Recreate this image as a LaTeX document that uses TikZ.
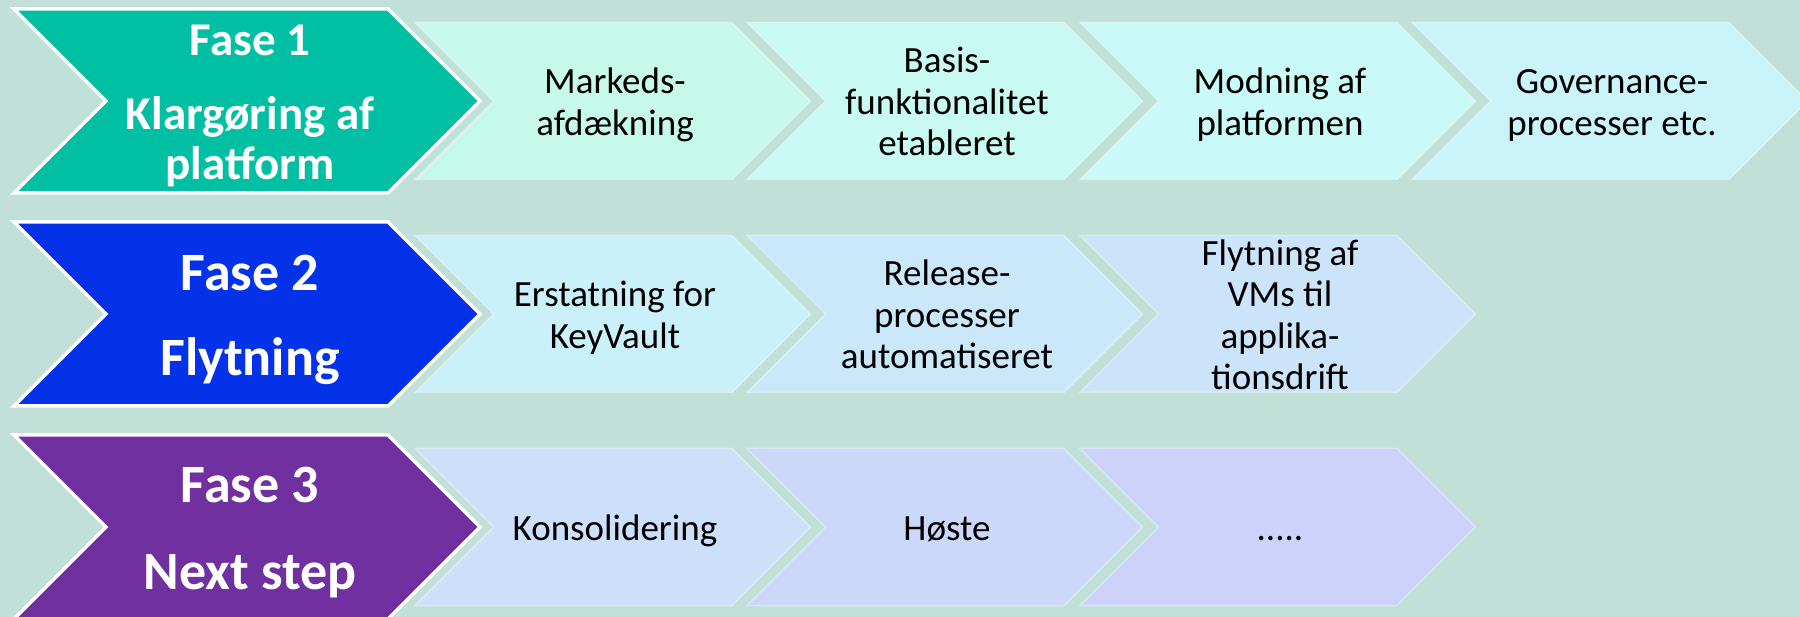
\documentclass[tikz,border=0pt]{standalone}
\usepackage{fontspec}
\setmainfont{Carlito}

\definecolor{bgcol}{RGB}{192,224,216}
\definecolor{fasea}{RGB}{0,191,163}
\definecolor{faseb}{RGB}{4,50,232}
\definecolor{fasec}{RGB}{112,48,160}
\definecolor{taska}{RGB}{198,249,234}
\definecolor{taskb}{RGB}{200,250,242}
\definecolor{taskc}{RGB}{202,250,247}
\definecolor{taskd}{RGB}{202,244,250}
\definecolor{taske}{RGB}{202,240,250}
\definecolor{taskf}{RGB}{202,232,250}
\definecolor{taskg}{RGB}{203,228,250}
\definecolor{taskh}{RGB}{204,224,250}
\definecolor{taski}{RGB}{204,216,250}
\definecolor{taskj}{RGB}{204,210,250}

% struts so that lines are centred like the slide text
\newcommand{\tstrut}{\rule{0pt}{0.97em}}
\newcommand{\bstrut}{\rule[-0.25em]{0pt}{0.25em}}
% #1 style, #2 left x, #3 centre y, #4 length to top corner, #5 half height
\newcommand{\chevron}[5]{%
  \path[#1] (#2,#3-#5) -- ++(#4,0) -- ++(#5,#5) -- ++(-#5,#5)
    -- ++(-#4,0) -- ++(#5,-#5) -- cycle;}

\begin{document}
\begin{tikzpicture}[x=1pt, y=-1pt,
  phase/.style = {draw=white, line width=3.5pt, line join=miter},
  task/.style = {draw=white, draw opacity=0.35, line width=1.5pt},
  phasetext/.style = {text=white, align=center, font=\bfseries\fontsize{54}{54}\selectfont},
  tasktext/.style = {align=center, font=\fontsize{37}{41.5}\selectfont}
  ]
  \useasboundingbox (0,0) rectangle (1800,617);
  \clip (0,0) rectangle (1800,617);
  \fill[bgcol] (0,0) rectangle (1800,617);

  % row 1
  \chevron{task, fill=taska}{415}{101}{317}{78.5}
  \chevron{task, fill=taskb}{747}{101}{317}{78.5}
  \chevron{task, fill=taskc}{1080}{101}{317}{78.5}
  \chevron{task, fill=taskd}{1412}{101}{317}{78.5}
  \chevron{phase, fill=fasea}{14}{101}{374}{92}
  \node[phasetext, font=\bfseries\fontsize{47}{50}\selectfont] (fase1) at (250,101)
    {\tstrut Fase 1\\[24pt]Klargøring af\\platform\bstrut};
  \node[tasktext] (marked) at (615,101) {\tstrut Markeds-\\afdækning\bstrut};
  \node[tasktext] (basis) at (947,101) {\tstrut Basis-\\funktionalitet\\etableret\bstrut};
  \node[tasktext] (modning) at (1280,101) {\tstrut Modning af\\platformen\bstrut};
  \node[tasktext] (governance) at (1612,101) {\tstrut Governance-\\processer etc.\bstrut};

  % row 2
  \chevron{task, fill=taske}{415}{314}{317}{78.5}
  \chevron{task, fill=taskf}{747}{314}{317}{78.5}
  \chevron{task, fill=taskg}{1080}{314}{317}{78.5}
  \chevron{phase, fill=faseb}{14}{314}{374}{92}
  \node[phasetext] (fase2) at (250,314) {\tstrut Fase 2\\[31pt]Flytning\bstrut};
  \node[tasktext] (keyvault) at (615,314) {\tstrut Erstatning for\\KeyVault\bstrut};
  \node[tasktext] (release) at (947,314) {\tstrut Release-\\processer\\automatiseret\bstrut};
  \node[tasktext] (vms) at (1280,314) {\tstrut Flytning af\\VMs til\\applika-\\tionsdrift\bstrut};

  % row 3
  \chevron{task, fill=taskh}{415}{527}{317}{78.5}
  \chevron{task, fill=taski}{747}{527}{317}{78.5}
  \chevron{task, fill=taskj}{1080}{527}{317}{78.5}
  \chevron{phase, fill=fasec}{14}{527}{374}{92}
  \node[phasetext] (fase3) at (250,527) {\tstrut Fase 3\\[33pt]Next step\bstrut};
  \node[tasktext] (konsol) at (615,527) {\tstrut Konsolidering\bstrut};
  \node[tasktext] (hoste) at (947,527) {\tstrut Høste\bstrut};
  \node[tasktext] (more) at (1280,527) {\tstrut .....\bstrut};
\end{tikzpicture}
\end{document}
